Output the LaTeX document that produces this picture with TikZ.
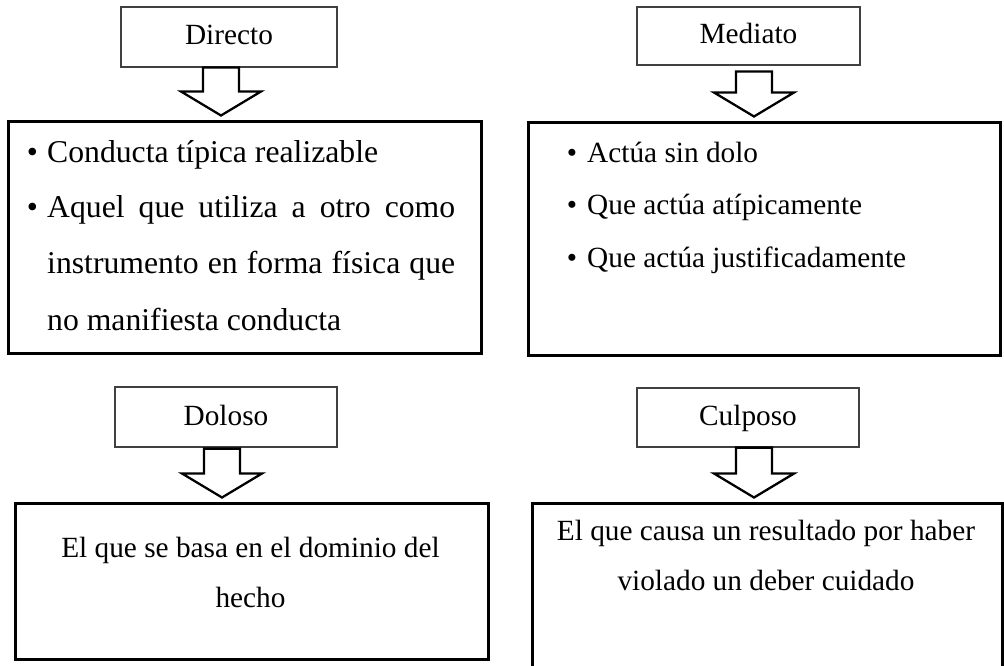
\documentclass[tikz,border=0pt]{standalone}
\usepackage{fontspec}
\setmainfont{Liberation Serif}
\usetikzlibrary{calc}
\tikzset{
  lbl/.style={draw=black!75, line width=1.2pt, inner sep=0pt, text height=22pt, text depth=6pt, font=\fontsize{29.3}{35}\selectfont},
  bigbox/.style={draw=black, line width=2.6pt, inner sep=0pt, anchor=north west},
  txt/.style={inner sep=0pt, font=\fontsize{29.3}{35}\selectfont},
  txtL/.style={inner sep=0pt, font=\fontsize{31.7}{38}\selectfont},
  blockarrow/.style={draw=black, line width=2.3pt, fill=white, line join=miter},
}
\newcommand{\blockarr}[4]{%
  \coordinate (ac) at (#3,0);
  \coordinate (s) at ($(ac |- #1.south)+(0,#4)$);
  \coordinate (t) at ($(ac |- #2.north)+(0,-4.5)$);
  \draw[blockarrow] ($(s)+(-18,0)$) -- ($(t)+(-18,-24)$) -- ($(t)+(-40,-24)$) -- (t)
    -- ($(t)+(40,-24)$) -- ($(t)+(18,-24)$) -- ($(s)+(18,0)$) -- cycle;
}
\begin{document}
\begin{tikzpicture}[x=1pt,y=-1pt]
\useasboundingbox (0,0) rectangle (1004,666);
\clip (0,0) rectangle (1004,666);

% label boxes
\node[lbl, minimum width=216pt, minimum height=60pt] (dir) at (229,37) {Directo};
\node[lbl, minimum width=223pt, minimum height=58pt] (med) at (748.5,36) {Mediato};
\node[lbl, minimum width=222pt, minimum height=60pt] (dol) at (226,417) {Doloso};
\node[lbl, minimum width=222pt, minimum height=59pt] (cul) at (748,417.5) {Culposo};

% content boxes
\node[bigbox, minimum width=473pt, minimum height=232pt] (b1) at (7,120) {};
\node[bigbox, minimum width=472pt, minimum height=233pt] (b2) at (527,121) {};
\node[bigbox, minimum width=473pt, minimum height=156pt] (b3) at (14,502) {};
\node[bigbox, minimum width=470pt, minimum height=200pt] (b4) at (531,502) {};

% arrows
\blockarr{dir}{b1}{221}{0}
\blockarr{med}{b2}{754}{6}
\blockarr{dol}{b3}{222}{1}
\blockarr{cul}{b4}{754}{0}

% text of box 1
\node[txtL, anchor=base] (b1p1) at (32.5,162) {•};
\node[txtL, anchor=base west] (b1l1) at (47,162) {Conducta típica realizable};
\node[txtL, anchor=base] (b1p2) at (32.5,217) {•};
\node[txtL, anchor=base west] (b1l2) at (47,217) {\makebox[408pt][s]{Aquel que utiliza a otro como}};
\node[txtL, anchor=base west] (b1l3) at (47,273) {\makebox[408pt][s]{instrumento en forma física que}};
\node[txtL, anchor=base west] (b1l4) at (47,330) {no manifiesta conducta};

% text of box 2
\node[txt, anchor=base] (b2p1) at (572,162) {•};
\node[txt, anchor=base west] (b2l1) at (587,162) {Actúa sin dolo};
\node[txt, anchor=base] (b2p2) at (572,214) {•};
\node[txt, anchor=base west] (b2l2) at (587,214) {Que actúa atípicamente};
\node[txt, anchor=base] (b2p3) at (572,267) {•};
\node[txt, anchor=base west] (b2l3) at (587,267) {Que actúa justificadamente};

% text of box 3
\node[txt, anchor=base] (b3l1) at (250.5,557) {El que se basa en el dominio del};
\node[txt, anchor=base] (b3l2) at (250.5,607) {hecho};

% text of box 4
\node[txt, anchor=base] (b4l1) at (766,540) {El que causa un resultado por haber};
\node[txt, anchor=base] (b4l2) at (766,590) {violado un deber cuidado};
\end{tikzpicture}
\end{document}
